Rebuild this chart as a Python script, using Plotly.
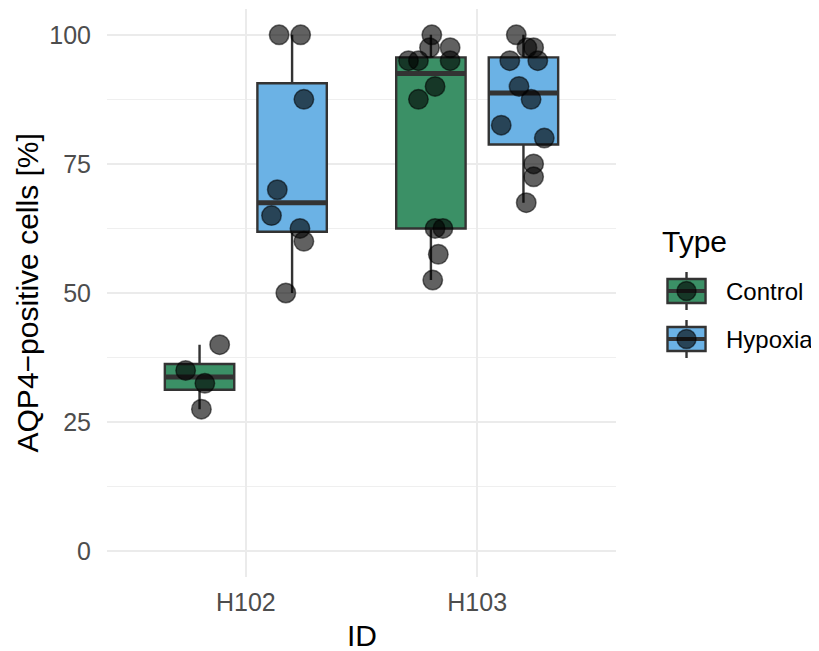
import numpy as np
import plotly.graph_objects as go

# ---------------- data ----------------
ids = ["H102", "H103"]
types = ["Control", "Hypoxia"]
type_colors = {"Control": "#3b9066", "Hypoxia": "#6bb2e5"}

h102_control = [40, 35, 32.5, 27.5]
h102_hypoxia = [100, 100, 87.5, 70, 65, 62.5, 60, 50]
h103_control = [100, 97.5, 97.5, 95, 95, 95, 90, 87.5, 62.5, 62.5, 57.5, 52.5]
h103_hypoxia = [100, 97.5, 97.5, 95, 95, 90, 87.5, 82.5, 80, 75, 72.5, 67.5]

# horizontal jitter of each point (category units)
h102_control_jitter = [0.087, -0.060, 0.023, 0.008]
h102_hypoxia_jitter = [-0.056, 0.037, 0.051, -0.064, -0.089, 0.034, 0.051, -0.027]
h103_control_jitter = [0.004, -0.006, 0.083, -0.097, -0.054, 0.083, 0.018, -0.054,
                       0.018, 0.052, 0.032, 0.008]
h103_hypoxia_jitter = [-0.031, 0.015, 0.044, -0.059, 0.062, -0.019, 0.033, -0.096,
                       0.090, 0.044, 0.044, 0.012]

groups = [
    ("H102", "Control", h102_control, h102_control_jitter),
    ("H102", "Hypoxia", h102_hypoxia, h102_hypoxia_jitter),
    ("H103", "Control", h103_control, h103_control_jitter),
    ("H103", "Hypoxia", h103_hypoxia, h103_hypoxia_jitter),
]

# ---------------- styling ----------------
DODGE = 0.2
BOXW = 0.3
EDGE = "#333333"
FONT = "Liberation Sans, Arial, Helvetica, sans-serif"

fig = go.Figure()

def pos_of(idv, tp):
    return ids.index(idv) + 1 + (-DODGE if tp == "Control" else DODGE)

# boxes
for idv, tp, vals, jit in groups:
    v = np.array(vals, dtype=float)
    q1, med, q3 = np.percentile(v, [25, 50, 75])
    iqr = q3 - q1
    lo = v[v >= q1 - 1.5 * iqr].min()
    hi = v[v <= q3 + 1.5 * iqr].max()
    p = pos_of(idv, tp)
    fig.add_trace(go.Box(
        x=[p], q1=[q1], median=[med], q3=[q3], lowerfence=[lo], upperfence=[hi],
        width=BOXW, fillcolor=type_colors[tp], line=dict(color=EDGE, width=2.4),
        whiskerwidth=0, boxpoints=False, showlegend=False, hoverinfo="skip",
        orientation="v",
    ))

# thick median lines
for idv, tp, vals, jit in groups:
    med = float(np.median(vals))
    p = pos_of(idv, tp)
    fig.add_trace(go.Scatter(
        x=[p - BOXW / 2, p + BOXW / 2], y=[med, med], mode="lines",
        line=dict(color=EDGE, width=5), showlegend=False, hoverinfo="skip",
    ))

# jittered points
for idv, tp, vals, jit in groups:
    p = pos_of(idv, tp)
    fig.add_trace(go.Scatter(
        x=[p + j for j in jit], y=vals, mode="markers",
        marker=dict(size=19.5, color="rgba(0,0,0,0.62)",
                    line=dict(color="rgba(0,0,0,0.55)", width=1.5)),
        showlegend=False, hoverinfo="skip",
    ))

# ---------------- layout ----------------
OFF = 8  # page body margin in the browser
WIN_W, WIN_H = 819, 651
# plot panel in window pixels
PL, PR, PT, PB = 107.4, 615.6, 9.0, 577.0
Wd, Ht = WIN_W - OFF, WIN_H - OFF
L = PL - OFF
T = PT - OFF
R = Wd - (PR - OFF)
B = Ht - (PB - OFF)
PW, PH = PR - PL, PB - PT

def px(x):  # window px -> paper x
    return (x - PL) / PW

def py(y):  # window px -> paper y
    return (PB - y) / PH

shapes = []
annotations = []

# manual legend (ggplot style)
annotations.append(dict(text="Type", x=px(660), y=py(241), xref="paper", yref="paper",
                        xanchor="left", yanchor="middle", showarrow=False,
                        font=dict(size=30, color="black", family=FONT)))
for tp, cy in [("Control", 291), ("Hypoxia", 339)]:
    cx = 686
    shapes.append(dict(type="line", xref="paper", yref="paper",
                       x0=px(cx), x1=px(cx), y0=py(cy - 19), y1=py(cy + 19),
                       line=dict(color=EDGE, width=2.4)))
    shapes.append(dict(type="rect", xref="paper", yref="paper",
                       x0=px(cx - 19), x1=px(cx + 19), y0=py(cy - 12), y1=py(cy + 12),
                       fillcolor=type_colors[tp], line=dict(color=EDGE, width=2.4)))
    shapes.append(dict(type="line", xref="paper", yref="paper",
                       x0=px(cx - 19), x1=px(cx + 19), y0=py(cy), y1=py(cy),
                       line=dict(color=EDGE, width=4)))
    shapes.append(dict(type="circle", xref="paper", yref="paper",
                       x0=px(cx - 9.5), x1=px(cx + 9.5), y0=py(cy - 9.5), y1=py(cy + 9.5),
                       fillcolor="rgba(0,0,0,0.62)", line=dict(color="rgba(0,0,0,0.55)", width=1.5)))
    annotations.append(dict(text=tp, x=px(723), y=py(cy), xref="paper", yref="paper",
                            xanchor="left", yanchor="middle", showarrow=False,
                            font=dict(size=24, color="black", family=FONT)))

# axis titles
annotations.append(dict(text="AQP4\u2212positive cells [%]", x=px(28), y=0.5,
                        xref="paper", yref="paper", textangle=-90,
                        xanchor="center", yanchor="middle", showarrow=False,
                        font=dict(size=30, color="black", family=FONT)))
annotations.append(dict(text="ID", x=0.5, y=py(635), xref="paper", yref="paper",
                        xanchor="center", yanchor="middle", showarrow=False,
                        font=dict(size=30, color="black", family=FONT)))

fig.update_layout(
    width=Wd, height=Ht,
    margin=dict(l=L, r=R, t=T, b=B, pad=0, autoexpand=False),
    paper_bgcolor="white", plot_bgcolor="white",
    showlegend=False,
    shapes=shapes, annotations=annotations,
    font=dict(family=FONT),
)
fig.update_xaxes(
    range=[0.4, 2.6], tickvals=[1, 2], ticktext=ids,
    showgrid=True, gridcolor="#ebebeb", gridwidth=2.2,
    zeroline=False, showline=False, ticks="",
    tickfont=dict(size=25, color="#4d4d4d", family=FONT),
    ticklabelstandoff=8,
)
fig.update_yaxes(
    range=[-5, 105], tickvals=[0, 25, 50, 75, 100],
    showgrid=True, gridcolor="#ebebeb", gridwidth=2.2,
    minor=dict(tickvals=[12.5, 37.5, 62.5, 87.5], showgrid=True,
               gridcolor="#efefef", gridwidth=1.3),
    zeroline=False, showline=False, ticks="",
    tickfont=dict(size=25, color="#4d4d4d", family=FONT),
    ticklabelstandoff=15,
)

fig.write_html("out.html")
